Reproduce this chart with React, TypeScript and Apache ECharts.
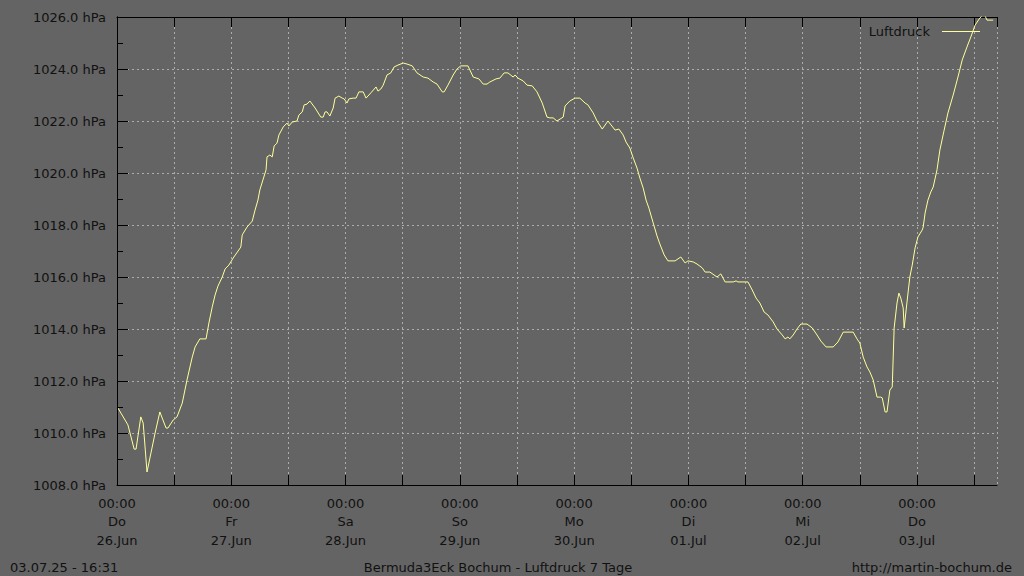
import React, { useEffect, useRef } from "react";
import * as echarts from "echarts";

// hours since 26.06. 00:00
const hours = [
  0.2, 2.3, 3.6, 4.0, 5.0, 5.5, 6.3, 8.0, 9.0, 10.3, 10.7, 11.8, 12.6, 13.7, 14.7, 15.8, 16.4, 17.4, 18.7, 19.3,
  20.0, 20.6, 21.2, 22.1, 22.7, 23.5, 24.4, 26.0, 26.3, 27.3, 28.4, 29.0, 29.6, 30.0, 31.3, 31.5, 32.1, 32.6, 33.0, 33.6,
  34.0, 34.9, 35.7, 36.1, 36.8, 37.8, 38.2, 38.9, 39.3, 39.9, 40.5, 41.6, 42.8, 43.3, 43.7, 44.1, 44.7, 45.4, 45.8, 46.6,
  47.3, 47.7, 48.3, 48.7, 49.6, 50.2, 50.8, 51.7, 52.3, 53.3, 54.4, 54.8, 55.4, 55.9, 56.7, 57.5, 58.2, 59.0, 60.1, 60.9,
  62.0, 63.0, 64.3, 65.3, 66.4, 67.2, 68.3, 68.7, 69.5, 70.6, 71.4, 72.2, 73.7, 74.8, 76.0, 76.9, 77.7, 78.3, 79.6, 80.4,
  81.3, 82.1, 83.2, 83.6, 84.2, 85.3, 86.1, 87.2, 88.2, 89.3, 90.3, 90.9, 91.6, 92.4, 93.7, 94.1, 95.1, 96.2, 97.2, 98.3,
  98.9, 100.0, 100.8, 101.9, 103.1, 104.6, 105.4, 106.3, 106.9, 107.7, 108.4, 109.2, 109.8, 110.5, 111.1, 111.7, 112.6, 113.4, 114.0, 114.9,
  115.7, 117.2, 118.4, 119.3, 119.9, 121.0, 121.8, 122.9, 123.5, 124.5, 126.0, 126.8, 127.7, 129.4, 130.0, 130.4, 132.5, 133.4, 134.2, 135.0,
  135.9, 136.7, 137.8, 138.6, 139.7, 140.3, 140.9, 141.3, 142.0, 142.8, 143.6, 144.9, 146.0, 147.0, 147.8, 148.9, 150.4, 151.4, 152.5, 154.6,
  155.4, 156.0, 156.7, 157.5, 158.1, 158.8, 159.6, 160.4, 160.7, 161.3, 161.7, 162.3, 162.8, 163.2, 163.8, 164.2, 164.6, 165.1, 165.3, 165.9,
  166.5, 167.0, 167.6, 168.2, 169.1, 169.3, 169.7, 170.3, 170.9, 171.4, 172.2, 172.8, 173.7, 174.5, 175.6, 176.6, 177.5, 178.5, 179.3, 180.2,
  181.2, 182.1, 182.7, 184.0,
];

const pressure = [
  1010.96, 1010.31, 1009.38, 1009.38, 1010.62, 1010.38, 1008.5, 1010.0, 1010.81, 1010.19, 1010.19, 1010.5, 1010.62, 1011.15, 1012.04, 1012.92, 1013.31, 1013.62, 1013.62, 1014.23,
  1014.85, 1015.31, 1015.65, 1016.0, 1016.31, 1016.46, 1016.73, 1017.15, 1017.62, 1017.92, 1018.15, 1018.58, 1018.96, 1019.35, 1020.12, 1020.62, 1020.69, 1020.62, 1021.04, 1021.15,
  1021.46, 1021.77, 1021.92, 1021.81, 1021.96, 1022.0, 1022.23, 1022.35, 1022.62, 1022.65, 1022.77, 1022.5, 1022.15, 1022.15, 1022.35, 1022.35, 1022.19, 1022.5, 1022.88, 1022.96,
  1022.88, 1022.85, 1022.69, 1022.85, 1022.88, 1022.88, 1023.12, 1023.12, 1022.88, 1023.08, 1023.31, 1023.15, 1023.23, 1023.38, 1023.77, 1023.85, 1024.08, 1024.15, 1024.23, 1024.19,
  1024.12, 1023.85, 1023.69, 1023.65, 1023.5, 1023.42, 1023.12, 1023.12, 1023.38, 1023.77, 1024.0, 1024.12, 1024.12, 1023.69, 1023.62, 1023.42, 1023.42, 1023.5, 1023.62, 1023.65,
  1023.85, 1023.85, 1023.69, 1023.77, 1023.65, 1023.54, 1023.38, 1023.35, 1023.12, 1022.69, 1022.15, 1022.12, 1022.12, 1022.0, 1022.15, 1022.58, 1022.77, 1022.88, 1022.88, 1022.69,
  1022.62, 1022.31, 1022.0, 1021.69, 1022.0, 1021.65, 1021.69, 1021.46, 1021.19, 1020.96, 1020.58, 1020.19, 1019.81, 1019.42, 1018.96, 1018.65, 1018.08, 1017.58, 1017.27, 1016.85,
  1016.62, 1016.62, 1016.77, 1016.54, 1016.62, 1016.58, 1016.5, 1016.35, 1016.19, 1016.19, 1016.0, 1016.12, 1015.81, 1015.81, 1015.85, 1015.81, 1015.81, 1015.5, 1015.19, 1015.0,
  1014.65, 1014.54, 1014.27, 1014.0, 1013.77, 1013.62, 1013.69, 1013.62, 1013.77, 1014.0, 1014.19, 1014.19, 1014.04, 1013.77, 1013.54, 1013.31, 1013.31, 1013.5, 1013.88, 1013.88,
  1013.62, 1013.46, 1012.92, 1012.54, 1012.35, 1012.04, 1011.38, 1011.38, 1011.35, 1010.81, 1010.81, 1011.65, 1011.77, 1014.04, 1015.0, 1015.38, 1015.19, 1014.81, 1014.04, 1015.04,
  1016.0, 1016.46, 1017.12, 1017.54, 1017.81, 1017.92, 1018.46, 1018.96, 1019.27, 1019.46, 1020.12, 1020.88, 1021.65, 1022.31, 1023.0, 1023.69, 1024.35, 1024.85, 1025.23, 1025.69,
  1025.96, 1026.12, 1025.88, 1025.88,
];

const dayNames = ["Do", "Fr", "Sa", "So", "Mo", "Di", "Mi", "Do"];
const dayDates = ["26.Jun", "27.Jun", "28.Jun", "29.Jun", "30.Jun", "01.Jul", "02.Jul", "03.Jul"];

const seriesName = "Luftdruck";
const footerLeft = "03.07.25 - 16:31";
const footerCenter = "Bermuda3Eck Bochum - Luftdruck 7 Tage";
const footerRight = "http://martin-bochum.de";

const FONT = "DejaVu Sans";
const FS = 13;
const TEXT = "#111111";
const GRIDC = "#adadad";
const LINEC = "#ffff99";

export default function App() {
  const ref = useRef<HTMLDivElement>(null);

  useEffect(() => {
    document.body.style.margin = "0";
    if (!ref.current) return;
    const chart = echarts.init(ref.current, null, { renderer: "svg" });
    const data = hours.map((h, i) => [h, pressure[i]]);
    const splitLine = {
      show: true,
      lineStyle: { color: GRIDC, type: [2, 3] as any, width: 1 },
    };
    const font = FS + "px '" + FONT + "'";
    chart.setOption({
      animation: false,
      backgroundColor: "#646464",
      textStyle: { fontFamily: FONT },
      graphic: [
        { type: "text", x: 10, y: 567, style: { text: footerLeft, fill: TEXT, font, textAlign: "left", textVerticalAlign: "middle" } },
        { type: "text", x: 498, y: 567, style: { text: footerCenter, fill: TEXT, font, textAlign: "center", textVerticalAlign: "middle" } },
        { type: "text", x: 1012, y: 567, style: { text: footerRight, fill: TEXT, font, textAlign: "right", textVerticalAlign: "middle" } },
        { type: "text", x: 930, y: 31, z: 10, style: { text: seriesName, fill: TEXT, font, textAlign: "right", textVerticalAlign: "middle" } },
        { type: "line", z: 10, shape: { x1: 942, y1: 31.5, x2: 980, y2: 31.5 }, style: { stroke: LINEC, lineWidth: 1 } },
      ],
      grid: {
        left: 117,
        top: 17,
        right: 27,
        bottom: 91,
        show: false,
      },
      xAxis: [
        {
          type: "value",
          position: "bottom",
          min: 0,
          max: 184.8,
          interval: 12,
          axisLine: { show: true, lineStyle: { color: "#000", width: 1 } },
          axisTick: { show: true, inside: true, length: 10, lineStyle: { color: "#000" } },
          splitLine,
          axisLabel: {
            show: true,
            color: TEXT,
            fontSize: FS,
            fontFamily: FONT,
            lineHeight: 18.5,
            margin: 9,
            showMaxLabel: false,
            formatter: (v: number) => {
              const r = v / 24;
              if (Math.abs(r - Math.round(r)) < 1e-6) {
                const i = Math.round(r);
                if (i >= 0 && i < dayNames.length) return "00:00\n" + dayNames[i] + "\n" + dayDates[i];
              }
              return "";
            },
          },
        },
        {
          type: "value",
          position: "top",
          min: 0,
          max: 184.8,
          interval: 12,
          axisLine: { show: true, lineStyle: { color: "#000", width: 1 } },
          axisTick: { show: true, inside: true, length: 10, lineStyle: { color: "#000" } },
          axisLabel: { show: false },
          splitLine: { show: false },
        },
      ],
      yAxis: [
        {
          type: "value",
          position: "left",
          min: 1008,
          max: 1026,
          interval: 2,
          axisLine: { show: true, lineStyle: { color: "#000", width: 1 } },
          axisTick: { show: true, inside: true, length: 11, lineStyle: { color: "#000" } },
          minorTick: { show: true, splitNumber: 2, length: 6, lineStyle: { color: "#000" } },
          splitLine,
          axisLabel: {
            color: TEXT,
            fontSize: FS,
            fontFamily: FONT,
            margin: 11,
            formatter: (v: number) => v.toFixed(1) + " hPa",
          },
        },
        {
          type: "value",
          position: "right",
          min: 1008,
          max: 1026,
          interval: 2,
          z: 5,
          axisLine: { show: true, lineStyle: { color: "#000", width: 1 } },
          axisTick: { show: false },
          axisLabel: { show: false },
          splitLine: { show: false },
        },
      ],
      series: [
        {
          name: seriesName,
          type: "line",
          xAxisIndex: 0,
          yAxisIndex: 0,
          data,
          showSymbol: false,
          symbol: "none",
          lineStyle: { color: LINEC, width: 1 },
          itemStyle: { color: LINEC },
          clip: true,
        },
      ],
    });
    return () => chart.dispose();
  }, []);

  return <div ref={ref} style={{ width: 1024, height: 576 }} />;
}
